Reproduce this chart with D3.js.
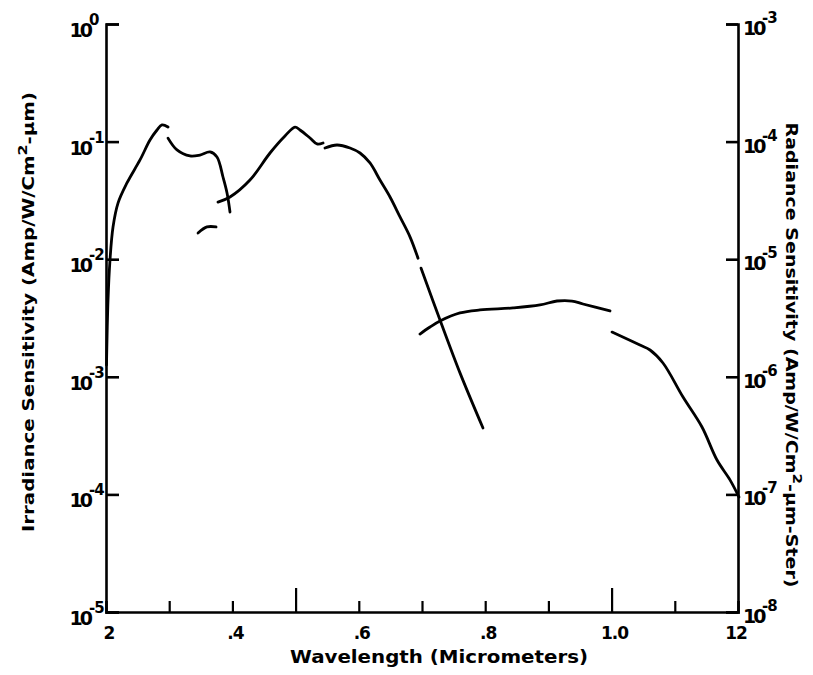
<!DOCTYPE html>
<html>
<head>
<meta charset="utf-8">
<script src="https://cdn.jsdelivr.net/npm/d3@7"></script>
<style>
  body { margin: 0; background: #fff; }
  text { font-family: "DejaVu Sans", sans-serif; font-weight: 700; fill: #000; }
</style>
</head>
<body>
<svg id="chart" width="813" height="675"></svg>
<script>
const segA = [[0.2008, 1.26e-3], [0.2032, 4.5e-3], [0.2063, 9.8e-3], [0.2111, 0.0188], [0.219, 0.030],
  [0.2332, 0.0445], [0.2538, 0.0698], [0.2696, 0.103], [0.2807, 0.1255], [0.2886, 0.1385], [0.2981, 0.133]]
const segB = [[0.2981, 0.107], [0.3123, 0.0849], [0.3329, 0.0755], [0.3487, 0.0769], [0.3646, 0.0816],
  [0.3756, 0.0740], [0.3851, 0.050], [0.3915, 0.0366], [0.3962, 0.0252]]
const segC = [[0.3456, 0.0167], [0.3598, 0.0188], [0.3741, 0.0188]]
const segD = [[0.3772, 0.0306], [0.3962, 0.0338], [0.4278, 0.0471], [0.4595, 0.080], [0.4832, 0.1116],
  [0.499, 0.133], [0.507, 0.1255], [0.5228, 0.1073], [0.5339, 0.0955], [0.5434, 0.0973]]
const segE = [[0.5465, 0.0883], [0.5655, 0.0936], [0.5861, 0.0883], [0.6019, 0.080], [0.6177, 0.0658],
  [0.6335, 0.0471], [0.6494, 0.0338], [0.6652, 0.0229], [0.681, 0.0155], [0.6937, 0.0102]]
const segE2 = [[0.6984, 0.0084], [0.7285, 3.04e-3], [0.7601, 1.08e-3], [0.7965, 3.67e-4]]
const segF = [[0.6968, 2.31e-3], [0.7127, 2.65e-3], [0.7285, 2.98e-3], [0.7601, 3.49e-3], [0.7918, 3.70e-3],
  [0.844, 3.85e-3], [0.8867, 4.08e-3], [0.9136, 4.41e-3], [0.9373, 4.41e-3], [0.9547, 4.16e-3], [0.9975, 3.63e-3]]
const segG = [[1.0006, 2.40e-3], [1.0449, 1.86e-3], [1.0608, 1.69e-3], [1.0813, 1.31e-3], [1.113, 6.73e-4],
  [1.143, 3.74e-4], [1.1668, 1.96e-4], [1.1873, 1.33e-4], [1.2016, 9.5e-5]]

const xTicks = [0.3, 0.4, 0.5, 0.6, 0.7, 0.8, 0.9, 1.0, 1.1]
const xTallTicks = [0.5, 1.0]
const xLabels = [[0.2, '2'], [0.4, '.4'], [0.6, '.6'], [0.8, '.8'], [1.0, '1.0'], [1.2, '12']]
const leftTicks = [1, 1e-1, 1e-2, 1e-3, 1e-4, 1e-5]
const leftExp = ['0', '-1', '-2', '-3', '-4', '-5']
const rightTicks = [1e-3, 1e-4, 1e-5, 1e-6, 1e-7, 1e-8]
const rightExp = ['-3', '-4', '-5', '-6', '-7', '-8']

const svg = d3.select('#chart')
const margin = { left: 106, right: 75, top: 24, bottom: 63 }
const width = 813 - margin.left - margin.right
const height = 675 - margin.top - margin.bottom

const x = d3.scaleLinear().domain([0.2, 1.2]).range([margin.left, margin.left + width])
const y = d3.scaleLog().domain([1e-5, 1]).range([margin.top + height, margin.top])
const y2 = d3.scaleLog().domain([1e-8, 1e-3]).range([margin.top + height, margin.top])

const axisStyle = g => {
  g.selectAll('path, line').attr('stroke', '#000').attr('stroke-width', 2.6)
  g.selectAll('.tick text').remove()
}

// bottom axis, ticks pointing up into the plot
svg.append('g')
  .attr('transform', `translate(0,${margin.top + height})`)
  .call(d3.axisBottom(x).tickValues(xTicks).tickSizeOuter(0).tickSize(-11))
  .call(axisStyle)
  .selectAll('.tick line')
    .attr('y2', d => xTallTicks.includes(d) ? -24 : -11)
    .attr('stroke-width', 2.2)

// left axis
svg.append('g')
  .attr('transform', `translate(${margin.left},0)`)
  .call(d3.axisLeft(y).tickValues(leftTicks).tickSizeOuter(0).tickSize(-13))
  .call(axisStyle)

// right axis
svg.append('g')
  .attr('transform', `translate(${margin.left + width},0)`)
  .call(d3.axisRight(y2).tickValues(rightTicks).tickSizeOuter(0).tickSize(-12))
  .call(axisStyle)

// tick labels: "10" with the exponent raised beside it
const lab = svg.append('g')
leftTicks.forEach((t, i) => {
  lab.append('text').attr('x', 90).attr('y', y(t) + 13).attr('text-anchor', 'end')
    .attr('font-size', 19).attr('letter-spacing', -3).text('10')
  lab.append('text').attr('x', 89).attr('y', y(t) + 1)
    .attr('font-size', 15).attr('letter-spacing', -1).text(leftExp[i])
})
rightTicks.forEach((t, i) => {
  lab.append('text').attr('x', margin.left + width + 5).attr('y', y2(t) + 11)
    .attr('font-size', 19).attr('letter-spacing', -3).text('10')
  lab.append('text').attr('x', margin.left + width + 24).attr('y', y2(t) - 1)
    .attr('font-size', 15).attr('letter-spacing', -1).text(rightExp[i])
})
xLabels.forEach(([v, s]) => {
  lab.append('text').attr('x', x(v) + (v === 1.2 ? -2 : 3)).attr('y', margin.top + height + 27)
    .attr('text-anchor', 'middle').attr('font-size', 17).attr('letter-spacing', -1).text(s)
})

// axis titles
svg.append('text')
  .attr('x', 439).attr('y', 663).attr('text-anchor', 'middle').attr('font-size', 17)
  .attr('textLength', 298).attr('lengthAdjust', 'spacingAndGlyphs')
  .text('Wavelength (Micrometers)')

const title = (tr, main, tail, len) => {
  const t = svg.append('text')
    .attr('transform', tr)
    .attr('text-anchor', 'middle').attr('font-size', 15)
    .attr('textLength', len).attr('lengthAdjust', 'spacingAndGlyphs')
  t.append('tspan').text(main)
  t.append('tspan').attr('font-size', 12).attr('dy', -7).text('2')
  t.append('tspan').attr('dy', 7).text(tail)
}
title('translate(34,312) rotate(-90)', 'Irradiance  Sensitivity (Amp/W/Cm', '-µm)', 440)
title('translate(786,355) rotate(90)', 'Radiance  Sensitivity (Amp/W/Cm', '-µm-Ster)', 465)

// curves
const line = d3.line()
  .x(d => x(d[0]))
  .y(d => y(d[1]))
  .curve(d3.curveCatmullRom.alpha(0.5))

const segments = [segA, segB, segC, segD, segE, segE2, segF, segG]
svg.append('g').selectAll('path')
  .data(segments)
  .enter().append('path')
    .attr('d', line)
    .attr('fill', 'none')
    .attr('stroke', '#000')
    .attr('stroke-width', 2.8)
    .attr('stroke-linecap', 'round')
</script>
</body>
</html>
